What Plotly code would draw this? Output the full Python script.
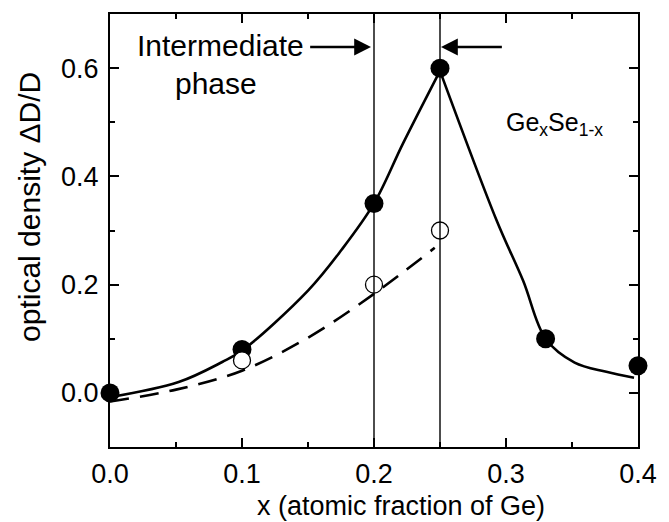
import plotly.graph_objects as go

# Measured optical density change for Ge_xSe_(1-x) films
x_filled = [0.0, 0.1, 0.2, 0.25, 0.33, 0.4]
y_filled = [0.0, 0.08, 0.35, 0.60, 0.10, 0.05]

x_open = [0.1, 0.2, 0.25]
y_open = [0.06, 0.20, 0.30]

# Guide-to-the-eye curves: rising and falling branches of the solid curve
x_rise = [0.0, 0.052, 0.085, 0.1, 0.15, 0.175, 0.2, 0.222, 0.25]
y_rise = [-0.008, 0.02, 0.057, 0.078, 0.189, 0.263, 0.35, 0.461, 0.595]

x_fall = [0.25, 0.293, 0.313, 0.33, 0.352, 0.376, 0.397]
y_fall = [0.595, 0.318, 0.207, 0.1, 0.056, 0.039, 0.028]

x_dash = [0.0, 0.05, 0.1, 0.15, 0.2, 0.246]
y_dash = [-0.016, 0.006, 0.041, 0.102, 0.183, 0.268]

phase_bounds = [0.2, 0.25]

FONT = "Liberation Sans, Arial, sans-serif"

fig = go.Figure()

for xs, ys in [(x_rise, y_rise), (x_fall, y_fall)]:
    fig.add_trace(go.Scatter(x=xs, y=ys, mode="lines",
                             line=dict(color="black", width=2.6, shape="spline", smoothing=1),
                             showlegend=False, hoverinfo="skip"))
fig.add_trace(go.Scatter(x=x_dash, y=y_dash, mode="lines",
                         line=dict(color="black", width=2.6, dash="19px,11px",
                                   shape="spline", smoothing=1),
                         showlegend=False, hoverinfo="skip"))
fig.add_trace(go.Scatter(x=x_filled, y=y_filled, mode="markers",
                         marker=dict(symbol="circle", size=19, color="black"),
                         showlegend=False, cliponaxis=False))
fig.add_trace(go.Scatter(x=x_open, y=y_open, mode="markers",
                         marker=dict(symbol="circle", size=17, color="white",
                                     line=dict(color="black", width=1.3)),
                         showlegend=False, cliponaxis=False))

for xb in phase_bounds:
    fig.add_shape(type="line", xref="x", yref="paper", x0=xb, x1=xb, y0=0, y1=1,
                  line=dict(color="black", width=1.4))

# Arrows marking the intermediate phase window
fig.add_annotation(x=0.2, y=0.639, ax=0.1505, ay=0.639, xref="x", yref="y",
                   axref="x", ayref="y", text="", showarrow=True,
                   arrowhead=2, arrowsize=1.4, arrowwidth=2.4, arrowcolor="black",
                   standoff=3)
fig.add_annotation(x=0.25, y=0.639, ax=0.298, ay=0.639, xref="x", yref="y",
                   axref="x", ayref="y", text="", showarrow=True,
                   arrowhead=2, arrowsize=1.4, arrowwidth=2.4, arrowcolor="black",
                   standoff=1)

fig.add_annotation(x=0.1485, y=0.641, xref="x", yref="y", text="Intermediate",
                   showarrow=False, xanchor="right", yanchor="middle",
                   font=dict(family=FONT, size=30, color="black"))
fig.add_annotation(x=0.08, y=0.572, xref="x", yref="y", text="phase",
                   showarrow=False, xanchor="center", yanchor="middle",
                   font=dict(family=FONT, size=30, color="black"))
fig.add_annotation(x=0.2985, y=0.496, xref="x", yref="y",
                   text="Ge<sub>x</sub>Se<sub>1-x</sub>",
                   showarrow=False, xanchor="left", yanchor="middle",
                   font=dict(family=FONT, size=25, color="black"))

# Axis titles
fig.add_annotation(x=-0.1537, y=0.554, xref="paper", yref="paper",
                   text="optical density \u0394D/D", textangle=-90,
                   showarrow=False, xanchor="center", yanchor="middle",
                   font=dict(family=FONT, size=30, color="black"))
fig.add_annotation(x=0.552, y=-0.136, xref="paper", yref="paper",
                   text="x (atomic fraction of Ge)",
                   showarrow=False, xanchor="center", yanchor="middle",
                   font=dict(family=FONT, size=27, color="black"))

axis_common = dict(showline=True, linecolor="black", linewidth=2, mirror="allticks",
                   ticks="inside", ticklen=9, tickwidth=1.8, tickcolor="black",
                   showgrid=False, zeroline=False,
                   tickfont=dict(family=FONT, size=27, color="black"))

fig.update_xaxes(range=[0, 0.4], tickvals=[0, 0.1, 0.2, 0.3, 0.4],
                 ticktext=["0.0", "0.1", "0.2", "0.3", "0.4"],
                 ticklabelstandoff=2,
                 minor=dict(tickvals=[0.05, 0.15, 0.25, 0.35], ticks="inside",
                            ticklen=5, tickwidth=1.8, tickcolor="black"),
                 **axis_common)
fig.update_yaxes(range=[-0.1, 0.7], tickvals=[0.0, 0.2, 0.4, 0.6],
                 ticktext=["0.0", "0.2", "0.4", "0.6"],
                 ticklabelstandoff=4,
                 minor=dict(tickvals=[-0.1, 0.1, 0.3, 0.5, 0.7], ticks="inside",
                            ticklen=5, tickwidth=1.8, tickcolor="black"),
                 **axis_common)

fig.update_layout(width=669, height=522, plot_bgcolor="white", paper_bgcolor="white",
                  margin=dict(l=110, r=19, t=14, b=75))

fig.write_html("out.html")
